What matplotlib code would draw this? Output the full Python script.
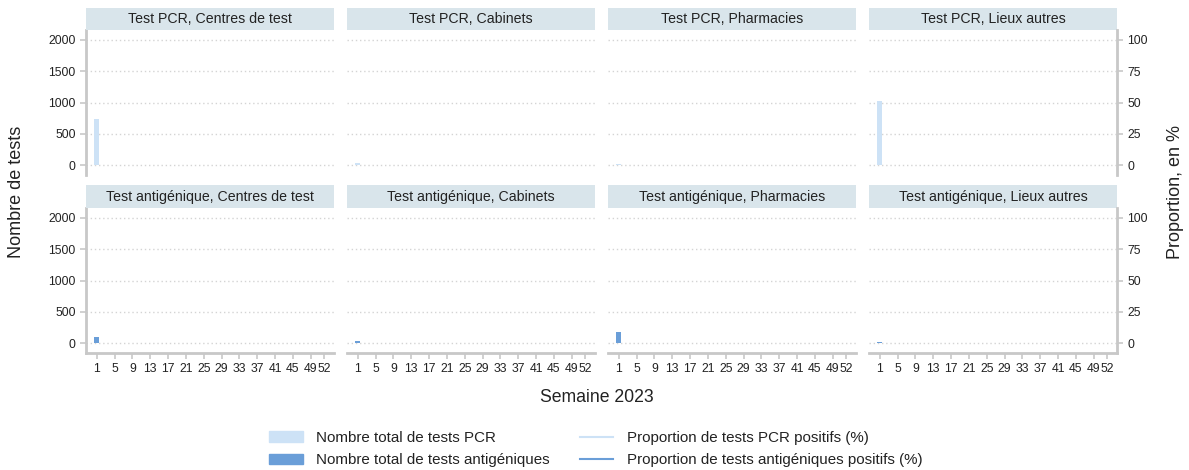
import matplotlib
matplotlib.use("Agg")
import matplotlib.pyplot as plt
from matplotlib.patches import Patch
from matplotlib.lines import Line2D
import numpy as np

plt.rcParams['font.family'] = ['Liberation Sans', 'DejaVu Sans']

# weeks of 2023
weeks = np.arange(1, 53)
week_ticks = [1, 5, 9, 13, 17, 21, 25, 29, 33, 37, 41, 45, 49, 52]

lieux = ['Centres de test', 'Cabinets', 'Pharmacies', 'Lieux autres']
types_test = ['Test PCR', 'Test antigénique']

# only week 1 has data
pcr_total = {'Centres de test': [740], 'Cabinets': [40],
             'Pharmacies': [15], 'Lieux autres': [1030]}
antigen_total = {'Centres de test': [90], 'Cabinets': [30],
                 'Pharmacies': [180], 'Lieux autres': [10]}
pcr_prop = {'Centres de test': [np.nan], 'Cabinets': [np.nan],
            'Pharmacies': [np.nan], 'Lieux autres': [np.nan]}
antigen_prop = {'Centres de test': [np.nan], 'Cabinets': [np.nan],
                'Pharmacies': [np.nan], 'Lieux autres': [np.nan]}

pcr_col = '#cde2f6'
ag_col = '#6a9ed8'
strip_col = '#d9e5eb'
axis_col = '#c8c8c8'
txt_col = '#222222'

W, H = 1189, 470
fig = plt.figure(figsize=(W / 100, H / 100), dpi=100)

col_x = [86, 347, 608, 869]
pan_w = 248
rows = [(8, 30, 175), (185, 208, 353)]  # strip top, plot top, plot bottom

scale = 20.0  # 2000 tests <-> 100 %

for r, (s_top, p_top, p_bot) in enumerate(rows):
    for c, lieu in enumerate(lieux):
        x0 = col_x[c]
        ax = fig.add_axes([x0 / W, 1 - p_bot / H, pan_w / W, (p_bot - p_top) / H])
        sax = fig.add_axes([x0 / W, 1 - p_top / H, pan_w / W, (p_top - s_top) / H])
        sax.set_facecolor(strip_col)
        sax.set_xticks([])
        sax.set_yticks([])
        for s in sax.spines.values():
            s.set_visible(False)
        sax.text(0.5, 0.5, types_test[r] + ', ' + lieu, ha='center', va='center',
                 fontsize=10.2, color=txt_col, transform=sax.transAxes)

        n = len(pcr_total[lieu])
        if r == 0:
            ax.bar(weeks[:n], pcr_total[lieu], width=1.1, color=pcr_col, zorder=3)
            ax.plot(weeks[:n], np.array(pcr_prop[lieu]) * scale, color=pcr_col, lw=1.5, zorder=4)
        else:
            ax.bar(weeks[:n], antigen_total[lieu], width=1.1, color=ag_col, zorder=3)
            ax.plot(weeks[:n], np.array(antigen_prop[lieu]) * scale, color=ag_col, lw=1.5, zorder=4)

        ax.set_xlim(-1.4, 54.2)
        ax.set_ylim(-160, 2160)
        ax.set_yticks([0, 500, 1000, 1500, 2000])
        ax.grid(axis='y', color='#d4d4d4', linestyle=(0, (1, 2)), lw=1, zorder=0)
        for s in ax.spines.values():
            s.set_visible(False)
        ax.tick_params(colors=axis_col, labelcolor=txt_col, labelsize=8.8,
                       length=4, width=1.2)

        if r == 1:
            ax.spines['bottom'].set_visible(True)
            ax.spines['bottom'].set_color(axis_col)
            ax.spines['bottom'].set_linewidth(2)
            ax.set_xticks(week_ticks)
            ax.set_xticklabels([str(w) for w in week_ticks])
        else:
            ax.set_xticks([])

        if c == 3:
            ax2 = ax.twinx()
            ax2.set_ylim(-160 / scale, 2160 / scale)
            ax2.set_yticks([0, 25, 50, 75, 100])
            for s in ax2.spines.values():
                s.set_visible(False)
            ax2.spines['right'].set_visible(True)
            ax2.spines['right'].set_color(axis_col)
            ax2.spines['right'].set_linewidth(2)
            ax2.tick_params(colors=axis_col, labelcolor=txt_col, labelsize=8.8,
                            length=4, width=1.2)

        if c == 0:
            ax.spines['left'].set_visible(True)
            ax.spines['left'].set_color(axis_col)
            ax.spines['left'].set_linewidth(2)
        else:
            ax.tick_params(axis='y', left=False, labelleft=False)

fig.text(17 / W, 1 - 192 / H, 'Nombre de tests', rotation=90, ha='center', va='center',
         fontsize=13, color=txt_col)
fig.text(1176 / W, 1 - 192 / H, 'Proportion, en %', rotation=90, ha='center', va='center',
         fontsize=13, color=txt_col)
fig.text(597 / W, 1 - 397 / H, 'Semaine 2023', ha='center', va='center',
         fontsize=12.7, color=txt_col)

handles = [Patch(color=pcr_col, label='Nombre total de tests PCR'),
           Patch(color=ag_col, label='Nombre total de tests antigéniques'),
           Line2D([], [], color=pcr_col, lw=1.5, label='Proportion de tests PCR positifs (%)'),
           Line2D([], [], color=ag_col, lw=1.5, label='Proportion de tests antigéniques positifs (%)')]
fig.legend(handles=handles, ncol=2, loc='center', bbox_to_anchor=(596 / W, 1 - 449 / H),
           frameon=False, fontsize=10.9, handlelength=2.2, columnspacing=2.0,
           labelspacing=0.55, handletextpad=0.9, labelcolor=txt_col)

fig.savefig('out.png', dpi=100)
